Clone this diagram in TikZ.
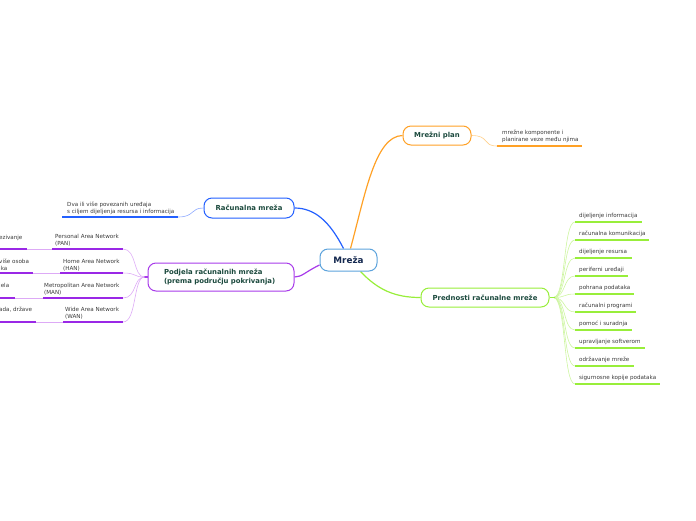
\documentclass[tikz,border=0pt]{standalone}
\usepackage{fontspec}
\setmainfont{DejaVu Sans}
\usetikzlibrary{backgrounds}
\definecolor{orangeM}{HTML}{FFA126}
\definecolor{orangeL}{HTML}{FFD08A}
\definecolor{blueM}{HTML}{2360FF}
\definecolor{blueL}{HTML}{8EA9FF}
\definecolor{purpleM}{HTML}{A83BEA}
\definecolor{purpleD}{HTML}{9A28E6}
\definecolor{purpleL}{HTML}{DDAAF6}
\definecolor{greenM}{HTML}{98EE3A}
\definecolor{greenL}{HTML}{CDF5A0}
\definecolor{rootB}{HTML}{5DA3DC}
\definecolor{rootT}{HTML}{14284F}
\definecolor{nodeT}{HTML}{1C4A3E}
\definecolor{leafT}{HTML}{3A3A3A}
\tikzset{
  topic/.style={draw, rounded corners=8pt, fill=white, line width=1pt, text=nodeT,
    font=\bfseries\fontsize{6.9}{8.6}\selectfont, inner sep=0pt},
  leaftext/.style={font=\fontsize{5.6}{6.8}\selectfont, text=leafT, align=left, anchor=base west, inner sep=0pt},
  uline/.style={line width=1.5pt},
  thinconn/.style={line width=0.6pt},
  main/.style={line width=1.2pt}
}
\begin{document}
\begin{tikzpicture}[x=1pt,y=-1pt]
\useasboundingbox (0,0) rectangle (696,520);
\clip (0,0) rectangle (696,520);

% main nodes
\node[topic, draw=rootB, minimum width=57pt, minimum height=22pt, text=rootT,
  font=\bfseries\fontsize{8.8}{10}\selectfont] (m) at (348.5,260) {Mreža};
\node[topic, draw=orangeM, minimum width=68pt, minimum height=19pt] (plan) at (437,135.5) {Mrežni plan};
\node[topic, draw=blueM, minimum width=90pt, minimum height=20pt] (rm) at (249,208) {Računalna mreža};
\node[topic, draw=purpleM, minimum width=146pt, minimum height=28pt, align=left,
  text width=114pt] (pod) at (221,277) {Podjela računalnih mreža\\(prema području pokrivanja)};
\node[topic, draw=greenM, minimum width=128pt, minimum height=19pt] (pre) at (485,297.5) {Prednosti računalne mreže};

% Mrezni plan leaf
\node[leaftext] (planl) at (502,141) {mrežne komponente i\\planirane veze među njima};
\coordinate (planA) at (497,146);
\coordinate (planB) at (582,146);
\draw[uline, orangeM] (planA) -- (planB);

% Racunalna mreza leaf
\node[leaftext] (rml) at (67,213) {Dva ili više povezanih uređaja\\s ciljem dijeljenja resursa i informacija};
\coordinate (rmA) at (62,217);
\coordinate (rmB) at (178,217);
\draw[uline, blueM] (rmA) -- (rmB);

% Podjela children
\node[leaftext] (pan) at (55,245) {Personal Area Network\\(PAN)};
\node[leaftext] (han) at (63,270) {Home Area Network\\(HAN)};
\node[leaftext] (man) at (44,294) {Metropolitan Area Network\\(MAN)};
\node[leaftext] (wan) at (65,318.5) {Wide Area Network\\(WAN)};
\coordinate (panA) at (52,249); \coordinate (panB) at (123,249);
\coordinate (hanA) at (60,273); \coordinate (hanB) at (123,273);
\coordinate (manA) at (43,298); \coordinate (manB) at (123,298);
\coordinate (wanA) at (63,322); \coordinate (wanB) at (123,322);
\foreach \n in {pan,han,man,wan}{\draw[uline, purpleD] (\n A) -- (\n B);}

% clipped grandchildren
\node[leaftext] (g1) at (-1,239) {ezivanje};
\node[leaftext] (g2) at (-1,270) {više osoba\\ika};
\node[leaftext] (g3) at (-1,287) {jela};
\node[leaftext] (g4) at (-1,311) {ada, države};
\coordinate (g1A) at (0,249); \coordinate (g1B) at (27,249);
\coordinate (g2A) at (0,273); \coordinate (g2B) at (33,273);
\coordinate (g3A) at (0,298); \coordinate (g3B) at (15,298);
\coordinate (g4A) at (0,322); \coordinate (g4B) at (36,322);
\foreach \n in {g1,g2,g3,g4}{\draw[uline, purpleD] (\n A) -- (\n B);}
\draw[thinconn, purpleL] (g1B) -- (panA);
\draw[thinconn, purpleL] (g2B) -- (hanA);
\draw[thinconn, purpleL] (g3B) -- (manA);
\draw[thinconn, purpleL] (g4B) -- (wanA);

% Prednosti leaves
\foreach \i/\t/\e in {
  1/dijeljenje informacija/642,
  2/računalna komunikacija/649,
  3/dijeljenje resursa/632,
  4/periferni uređaji/628,
  5/pohrana podataka/634,
  6/računalni programi/636,
  7/pomoć i suradnja/632,
  8/upravljanje softverom/645,
  9/održavanje mreže/634,
  10/sigurnosne kopije podataka/660}{
  \pgfmathsetmacro{\yy}{222+18*(\i-1)}
  \node[leaftext] (r\i) at (579,\yy-4.5) {\t};
  \coordinate (r\i A) at (575,\yy);
  \coordinate (r\i B) at (\e,\yy);
  \draw[uline, greenM] (r\i A) -- (r\i B);
  \begin{pgfonlayer}{background}
  \draw[thinconn, greenL] ([xshift=4pt]pre.east) .. controls (566,297.5) and (563,\yy) .. (r\i A);
  \end{pgfonlayer}
}

\begin{pgfonlayer}{background}
% main connectors
\draw[main, orangeM] ([xshift=2pt]m.north) .. controls (365,195) and (375,136) .. (plan.west);
\draw[main, blueM] ([xshift=-5pt]m.north) .. controls (330,222) and (315,208) .. (rm.east);
\draw[main, purpleM] ([yshift=-5pt]m.west) .. controls (305,272) and (302,277) .. (pod.east);
\draw[main, greenM] ([xshift=12pt]m.south) .. controls (378,290) and (395,297.5) .. (pre.west);
\draw[main, greenM] (pre.east) -- ([xshift=5pt]pre.east);
% leaf connectors
\draw[thinconn, orangeL] (plan.east) .. controls (490,135.5) and (482,146) .. (planA);
\draw[thinconn, blueL] (rm.west) .. controls (190,208) and (195,217) .. (rmB);
\draw[main, purpleM] (pod.west) -- ([xshift=-4pt]pod.west);
\foreach \n in {pan,han,man,wan}{
  \draw[thinconn, purpleL] ([xshift=-3pt]pod.west) .. controls (133,277) and (137,0|-\n B) .. (\n B);
}
\end{pgfonlayer}
\end{tikzpicture}
\end{document}
